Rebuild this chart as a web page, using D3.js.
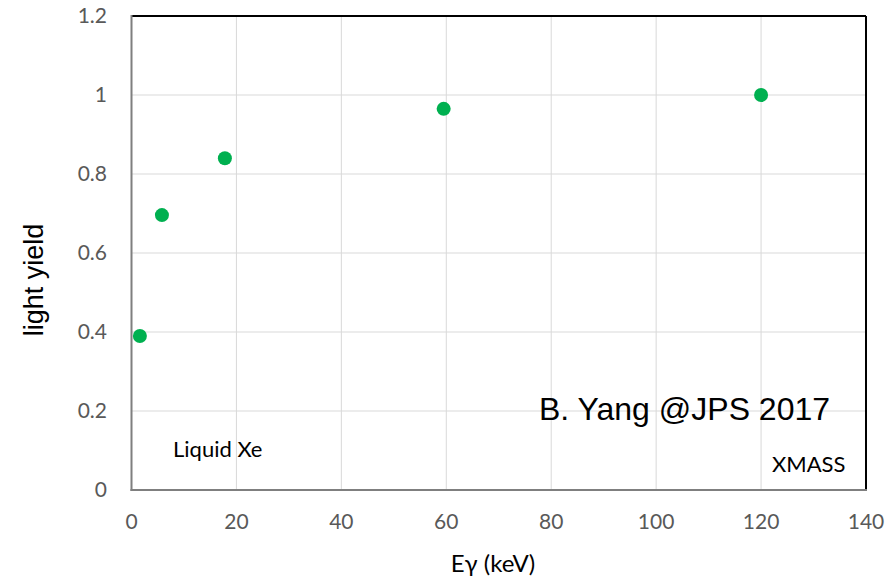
<!DOCTYPE html>
<html>
<head>
  <meta charset="utf-8">
  <script src="https://d3js.org/d3.v7.min.js"></script>
  <style>
    body { margin: 0; background: #fff; }
  </style>
</head>
<body>
<script>
  // data
  var energy = [1.6, 5.8, 17.8, 59.5, 120];
  var lightYield = [0.39, 0.696, 0.84, 0.965, 1.0];
  var xTicks = [0, 20, 40, 60, 80, 100, 120, 140];
  var yTicks = [0, 0.2, 0.4, 0.6, 0.8, 1, 1.2];

  var W = 894, H = 579;
  var m = {left: 131.5, right: 28, top: 16, bottom: 89};
  var font = "Lato, 'Open Sans', sans-serif";
  var arial = "'Liberation Sans', Arial, sans-serif";

  var svg = d3.select("body").append("svg")
    .attr("width", W).attr("height", H)
    .style("font-family", font);

  var x = d3.scaleLinear().domain([0, 140]).range([m.left, W - m.right]);
  var y = d3.scaleLinear().domain([0, 1.2]).range([H - m.bottom, m.top]);

  // grid
  svg.append("g").selectAll("line.v").data(xTicks.slice(1, -1)).enter()
    .append("line")
    .attr("x1", d => x(d)).attr("x2", d => x(d))
    .attr("y1", y(0)).attr("y2", y(1.2))
    .attr("stroke", "#d9d9d9").attr("stroke-width", 1);
  svg.append("g").selectAll("line.h").data(yTicks.slice(1, -1)).enter()
    .append("line")
    .attr("x1", x(0)).attr("x2", x(140))
    .attr("y1", d => y(d)).attr("y2", d => y(d))
    .attr("stroke", "#d9d9d9").attr("stroke-width", 1);

  // frame: top and right black, left and bottom grey
  svg.append("line").attr("x1", x(0)).attr("x2", x(140))
    .attr("y1", y(1.2)).attr("y2", y(1.2))
    .attr("stroke", "#000").attr("stroke-width", 2);
  svg.append("line").attr("x1", x(140)).attr("x2", x(140))
    .attr("y1", y(1.2)).attr("y2", y(0))
    .attr("stroke", "#000").attr("stroke-width", 2);
  svg.append("line").attr("x1", x(0)).attr("x2", x(0))
    .attr("y1", y(1.2) - 1).attr("y2", y(0) + 1)
    .attr("stroke", "#7f7f7f").attr("stroke-width", 2);
  svg.append("line").attr("x1", x(0) - 1).attr("x2", x(140) + 1)
    .attr("y1", y(0)).attr("y2", y(0))
    .attr("stroke", "#7f7f7f").attr("stroke-width", 2);

  // tick labels
  svg.append("g").selectAll("text").data(yTicks).enter()
    .append("text")
    .attr("x", 107).attr("y", d => y(d))
    .attr("dy", "0.35em")
    .attr("text-anchor", "end")
    .attr("font-size", 21).attr("fill", "#595959")
    .text(d => d3.format("")(d));
  svg.append("g").selectAll("text").data(xTicks).enter()
    .append("text")
    .attr("x", d => x(d)).attr("y", 522)
    .attr("dy", "0.35em")
    .attr("text-anchor", "middle")
    .attr("font-size", 21).attr("fill", "#595959")
    .text(d => d);

  // axis titles
  svg.append("text")
    .attr("transform", "translate(43,280) rotate(-90)")
    .attr("text-anchor", "middle")
    .style("font-family", arial)
    .attr("font-size", 27).attr("fill", "#000")
    .text("light yield");
  svg.append("text")
    .attr("x", 493).attr("y", 572)
    .attr("text-anchor", "middle")
    .attr("font-size", 24).attr("fill", "#000")
    .text("Eγ (keV)");

  // points
  svg.append("g").selectAll("circle").data(energy).enter()
    .append("circle")
    .attr("cx", d => x(d))
    .attr("cy", (d, i) => y(lightYield[i]))
    .attr("r", 7)
    .attr("fill", "#00b050");

  // annotations
  svg.append("text").attr("x", 539).attr("y", 420)
    .style("font-family", arial)
    .attr("font-size", 32).attr("fill", "#000")
    .text("B. Yang @JPS 2017");
  svg.append("text").attr("x", 173).attr("y", 457)
    .attr("font-size", 22).attr("fill", "#000")
    .text("Liquid Xe");
  svg.append("text").attr("x", 772).attr("y", 472)
    .attr("font-size", 22).attr("fill", "#000")
    .text("XMASS");
</script>
</body>
</html>
